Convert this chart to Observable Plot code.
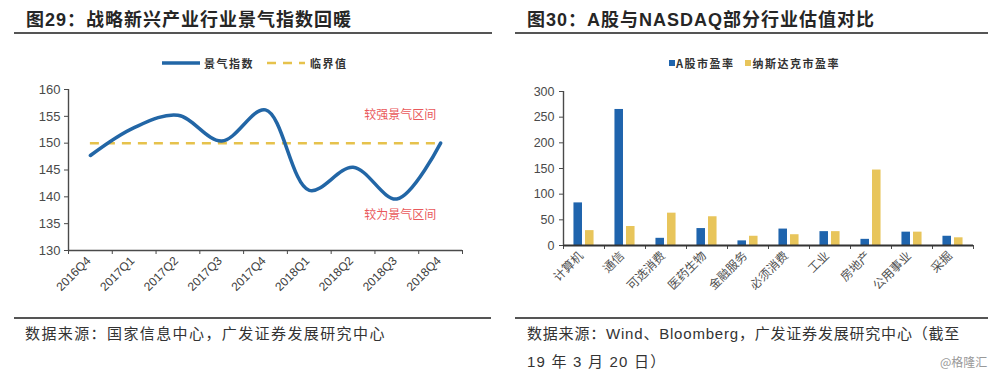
<!DOCTYPE html>
<html>
<head>
<meta charset="utf-8">
<script src="https://cdn.jsdelivr.net/npm/d3@7"></script>
<script src="https://cdn.jsdelivr.net/npm/@observablehq/plot@0.6"></script>
<style>
  body { margin: 0; background: #fff; }
  #root { position: relative; width: 1000px; height: 376px; overflow: hidden;
          font-family: "Noto Sans CJK SC", "Liberation Sans", sans-serif; color: #2a2a2a; }
  .abs { position: absolute; white-space: nowrap; }
  .title { font-family: "Liberation Sans", "Noto Sans CJK SC", sans-serif; font-size: 18px; font-weight: bold;
           line-height: 22px; letter-spacing: 1px; color: #262626; }
  .hr { position: absolute; background: #555; }
  .legend { font-size: 11px; font-weight: bold; line-height: 14px; color: #333; letter-spacing: 1.5px;
            display: flex; align-items: center; }
  .legend svg { display: block; }
  .foot { font-family: "Liberation Sans", "Noto Sans CJK SC", sans-serif; font-size: 15px; line-height: 20px; color: #333; }
  .plot { position: absolute; top: 70px; }
</style>
</head>
<body>
<div id="root"></div>
<script>
// ---------- data: left chart ----------
const quarters = ["2016Q4", "2017Q1", "2017Q2", "2017Q3", "2017Q4", "2018Q1", "2018Q2", "2018Q3", "2018Q4"];
const climateIndex = [147.7, 152.9, 155.2, 150.4, 156.2, 141.2, 145.5, 139.6, 150.0];
const thresholdValue = 150;
const zoneLabels = ["较强景气区间", "较为景气区间"];
const zoneLabelX = [7.08, 7.08];
const zoneLabelY = [155.2, 136.6];
const leftYTicks = [130, 135, 140, 145, 150, 155, 160];

// ---------- data: right chart ----------
const industries = ["计算机", "通信", "可选消费", "医药生物", "金融服务", "必须消费", "工业", "房地产", "公用事业", "采掘"];
const aSharePE = [83, 265, 14, 33, 9, 32, 27, 12, 26, 18];
const nasdaqPE = [29, 37, 63, 56, 18, 21, 27, 147, 26, 15];
const rightYTicks = [0, 50, 100, 150, 200, 250, 300];

const BLUE_LINE = "#2266a6";
const YELLOW_LINE = "#e6c24c";
const BLUE_BAR = "#1f64ad";
const YELLOW_BAR = "#e8c55b";
const RED = "#e9585b";
const AXIS = "#4a4a4a";

const root = document.getElementById("root");
function add(html) { root.insertAdjacentHTML("beforeend", html); }

// titles and rules
add(`<div class="abs title" style="left:26px;top:9px;">图29：战略新兴产业行业景气指数回暖</div>`);
add(`<div class="abs title" style="left:527px;top:9px;">图30：A股与NASDAQ部分行业估值对比</div>`);
add(`<div class="hr" style="left:14px;top:32px;width:478px;height:2px;"></div>`);
add(`<div class="hr" style="left:515px;top:32px;width:473px;height:2px;"></div>`);

// legends
add(`<div class="abs legend" style="left:162px;top:56px;">
  <svg width="38" height="14"><line x1="0" x2="38" y1="7" y2="7" stroke="${BLUE_LINE}" stroke-width="3.5"/></svg>
  <span style="margin-left:4px;">景气指数</span>
  <svg width="38" height="14" style="margin-left:13px;"><line x1="0" x2="38" y1="7" y2="7" stroke="${YELLOW_LINE}" stroke-width="2.5" stroke-dasharray="9,7"/></svg>
  <span style="margin-left:5px;">临界值</span></div>`);
add(`<div class="abs legend" style="left:669px;top:56px;">
  <svg width="6" height="14"><rect x="0" y="4" width="6" height="6" fill="${BLUE_BAR}"/></svg>
  <span style="margin-left:1px;">A股市盈率</span>
  <svg width="6" height="14" style="margin-left:10px;"><rect x="0" y="4" width="6" height="6" fill="${YELLOW_BAR}"/></svg>
  <span style="margin-left:2px;">纳斯达克市盈率</span></div>`);

// ---------- left plot ----------
const leftBounds = d3.range(-0.5, quarters.length, 1);
const zoneData = zoneLabels.map((t, i) => ({text: t, x: zoneLabelX[i], y: zoneLabelY[i]}));
const left = Plot.plot({
  width: 500, height: 240,
  marginTop: 19, marginBottom: 60, marginLeft: 68, marginRight: 38,
  style: {fontFamily: "Liberation Sans, Arial, sans-serif", fontSize: "13px", color: AXIS, background: "transparent", overflow: "visible"},
  x: {domain: [-0.5, quarters.length - 0.5], ticks: leftBounds, tickFormat: () => "", tickSize: 4, label: null},
  y: {domain: [130, 160], ticks: leftYTicks, tickSize: 4, tickPadding: 4, label: null},
  marks: [
    Plot.ruleY([130], {stroke: AXIS, strokeWidth: 1.4}),
    Plot.ruleX([-0.5], {stroke: AXIS, strokeWidth: 1.4}),
    Plot.ruleY([thresholdValue], {x1: 0, x2: quarters.length - 1, stroke: YELLOW_LINE, strokeWidth: 2.5, strokeDasharray: "9,7"}),
    Plot.line(climateIndex, {x: (d, i) => i, y: d => d, curve: "catmull-rom", stroke: BLUE_LINE, strokeWidth: 3.5}),
    Plot.text(quarters, {x: (d, i) => i, frameAnchor: "bottom", text: d => d, rotate: -45, textAnchor: "end",
      dx: 1, dy: 11, fontSize: 12, fill: "#404040"}),
    Plot.text(zoneData, {x: "x", y: "y", text: "text", fill: RED, fontSize: 12, fontFamily: "Noto Sans CJK SC", letterSpacing: 0.5})
  ]
});
left.classList.add("plot");
left.style.left = "0px";
root.appendChild(left);

// ---------- right plot ----------
const rightBounds = d3.range(-0.5, industries.length, 1);
const right = Plot.plot({
  width: 500, height: 240,
  marginTop: 21, marginBottom: 65, marginLeft: 63, marginRight: 27,
  style: {fontFamily: "Liberation Sans, Arial, sans-serif", fontSize: "12.5px", color: AXIS, background: "transparent", overflow: "visible"},
  x: {domain: [-0.5, industries.length - 0.5], ticks: rightBounds, tickFormat: () => "", tickSize: 4, label: null},
  y: {domain: [0, 300], ticks: rightYTicks, tickSize: 4, tickPadding: 5, label: null},
  marks: [
    Plot.rectY(aSharePE, {x1: (d, i) => i - 0.245, x2: (d, i) => i - 0.037, y: d => d, fill: BLUE_BAR}),
    Plot.rectY(nasdaqPE, {x1: (d, i) => i + 0.037, x2: (d, i) => i + 0.245, y: d => d, fill: YELLOW_BAR}),
    Plot.ruleY([0], {stroke: "#333", strokeWidth: 1.8}),
    Plot.ruleX([-0.5], {stroke: AXIS, strokeWidth: 1.4}),
    Plot.text(industries, {x: (d, i) => i, frameAnchor: "bottom", text: d => d, rotate: -45, textAnchor: "end",
      dx: 0, dy: 11, fontSize: 12, fill: "#505050", fontFamily: "Noto Sans CJK SC", letterSpacing: 1})
  ]
});
right.classList.add("plot");
right.style.left = "500px";
root.appendChild(right);

// footers
add(`<div class="hr" style="left:14px;top:317px;width:477px;height:1.5px;"></div>`);
add(`<div class="hr" style="left:515px;top:317px;width:473px;height:1.5px;"></div>`);
add(`<div class="abs foot" style="left:25px;top:324px;letter-spacing:1.4px;">数据来源：国家信息中心，广发证券发展研究中心</div>`);
add(`<div class="abs foot" style="left:527px;top:324px;letter-spacing:0.8px;">数据来源：Wind、Bloomberg，广发证券发展研究中心（截至</div>`);
add(`<div class="abs foot" style="left:527px;top:352px;letter-spacing:1.2px;">19 年 3 月 20 日）</div>`);
add(`<div class="abs" style="left:940px;top:354px;font-size:12px;line-height:16px;color:#999;">@格隆汇</div>`);
</script>
</body>
</html>
